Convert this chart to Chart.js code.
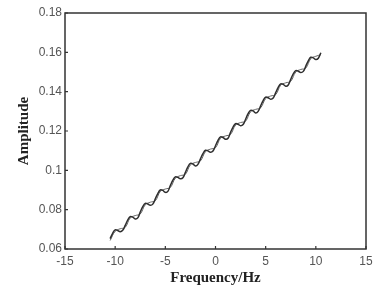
<!DOCTYPE html>
<html>
<head>
<meta charset="utf-8">
<script src="https://cdn.jsdelivr.net/npm/chart.js@4"></script>
<style>
  html, body { margin: 0; padding: 0; background: #fff; }
  #c { display: block; }
</style>
</head>
<body>
<canvas id="c" width="378" height="290"></canvas>
<script>
const freqA = [-10.5,-10.25,-10,-9.75,-9.5,-9.25,-9,-8.75,-8.5,-8.25,-8,-7.75,-7.5,-7.25,-7,-6.75,-6.5,-6.25,-6,-5.75,-5.5,-5.25,-5,-4.75,-4.5,-4.25,-4,-3.75,-3.5,-3.25,-3,-2.75,-2.5,-2.25,-2,-1.75,-1.5,-1.25,-1,-0.75,-0.5,-0.25,0,0.25,0.5,0.75,1,1.25,1.5,1.75,2,2.25,2.5,2.75,3,3.25,3.5,3.75,4,4.25,4.5,4.75,5,5.25,5.5,5.75,6,6.25,6.5,6.75,7,7.25,7.5,7.75,8,8.25,8.5,8.75,9,9.25,9.5,9.75,10,10.25,10.5];
const ampA = [0.0653,0.0680,0.0697,0.0694,0.0688,0.0695,0.0720,0.0747,0.0765,0.0762,0.0753,0.0758,0.0788,0.0815,0.0832,0.0829,0.0822,0.0828,0.0855,0.0882,0.0900,0.0898,0.0888,0.0893,0.0923,0.0950,0.0967,0.0964,0.0957,0.0962,0.0990,0.1018,0.1035,0.1032,0.1022,0.1030,0.1058,0.1085,0.1102,0.1099,0.1092,0.1098,0.1125,0.1152,0.1170,0.1167,0.1158,0.1163,0.1193,0.1220,0.1237,0.1234,0.1227,0.1233,0.1260,0.1288,0.1305,0.1302,0.1292,0.1300,0.1328,0.1355,0.1372,0.1369,0.1362,0.1368,0.1395,0.1422,0.1440,0.1437,0.1428,0.1434,0.1463,0.1490,0.1507,0.1504,0.1497,0.1503,0.1530,0.1557,0.1575,0.1572,0.1563,0.1570,0.1598];

// second (thin) trace, 0.5 Hz steps
const freqB = [-10.5,-10,-9.5,-9,-8.5,-8,-7.5,-7,-6.5,-6,-5.5,-5,-4.5,-4,-3.5,-3,-2.5,-2,-1.5,-1,-0.5,0,0.5,1,1.5,2,2.5,3,3.5,4,4.5,5,5.5,6,6.5,7,7.5,8,8.5,9,9.5,10,10.5];
const ampB = [0.0643,0.0690,0.0703,0.0710,0.0758,0.0770,0.0778,0.0825,0.0838,0.0845,0.0893,0.0905,0.0913,0.0960,0.0973,0.0980,0.1028,0.1040,0.1048,0.1095,0.1108,0.1115,0.1163,0.1175,0.1183,0.1230,0.1243,0.1250,0.1298,0.1310,0.1318,0.1365,0.1378,0.1385,0.1433,0.1445,0.1453,0.1500,0.1513,0.1520,0.1568,0.1580,0.1588];

const xTicks = [-15, -10, -5, 0, 5, 10, 15];
const yTicks = [0.06, 0.08, 0.1, 0.12, 0.14, 0.16, 0.18];

const toPts = (xs, ys) => xs.map((x, i) => ({ x: x, y: ys[i] }));

// frame + inward ticks like the matlab figure
const frame = {
  id: 'frame',
  afterDatasetsDraw(chart) {
    const { ctx, chartArea: a, scales } = chart;
    ctx.save();
    ctx.strokeStyle = '#333';
    ctx.lineWidth = 1.5;
    ctx.strokeRect(a.left, a.top, a.right - a.left, a.bottom - a.top);
    ctx.lineWidth = 1.2;
    ctx.beginPath();
    xTicks.forEach(v => {
      const px = scales.x.getPixelForValue(v);
      ctx.moveTo(px, a.bottom);
      ctx.lineTo(px, a.bottom - 3);
    });
    yTicks.forEach(v => {
      const py = scales.y.getPixelForValue(v);
      ctx.moveTo(a.left, py);
      ctx.lineTo(a.left + 3, py);
    });
    ctx.stroke();
    ctx.restore();
  }
};

new Chart(document.getElementById('c'), {
  type: 'line',
  data: {
    datasets: [
      {
        data: toPts(freqA, ampA),
        borderColor: '#2e2e2e',
        borderWidth: 1.5,
        pointRadius: 0,
        tension: 0.4
      },
      {
        data: toPts(freqB, ampB),
        borderColor: '#666',
        borderWidth: 1,
        pointRadius: 0,
        tension: 0.4
      }
    ]
  },
  options: {
    responsive: false,
    animation: false,
    layout: { padding: { top: 13, right: 12, left: 0, bottom: 0 } },
    plugins: { legend: { display: false }, tooltip: { enabled: false } },
    scales: {
      x: {
        type: 'linear',
        min: -15,
        max: 15,
        afterBuildTicks: s => { s.ticks = xTicks.map(v => ({ value: v })); },
        afterFit: s => { s.height = 41; },
        grid: { display: false, drawTicks: false },
        border: { display: false },
        ticks: {
          padding: 5,
          color: '#555',
          font: { family: 'Liberation Sans', size: 12 },
          callback: v => String(v)
        },
        title: {
          display: true,
          text: 'Frequency/Hz',
          color: '#222',
          padding: { top: 0, bottom: 3 },
          font: { family: 'Liberation Serif', size: 15, weight: 'bold' }
        }
      },
      y: {
        min: 0.06,
        max: 0.18,
        afterBuildTicks: s => { s.ticks = yTicks.map(v => ({ value: v })); },
        afterFit: s => { s.width = 65; },
        grid: { display: false, drawTicks: false },
        border: { display: false },
        ticks: {
          padding: 3,
          color: '#555',
          font: { family: 'Liberation Sans', size: 12 },
          callback: v => String(+v.toFixed(2))
        },
        title: {
          display: true,
          text: 'Amplitude',
          color: '#222',
          padding: { top: 15, bottom: 0 },
          font: { family: 'Liberation Serif', size: 15, weight: 'bold' }
        }
      }
    }
  },
  plugins: [frame]
});
</script>
</body>
</html>
